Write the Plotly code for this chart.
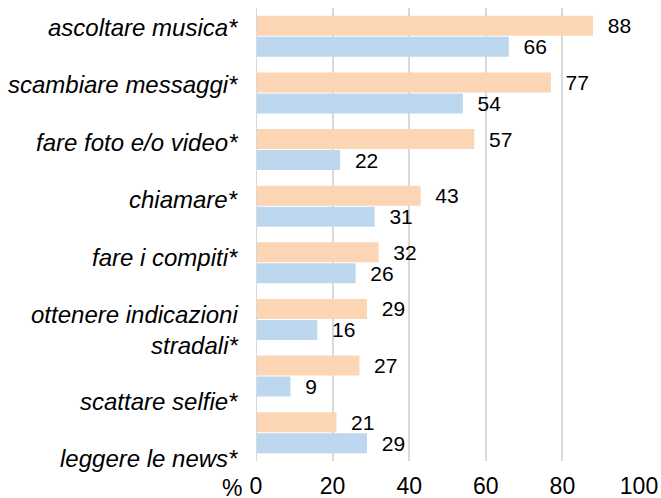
import plotly.graph_objects as go

categories = ["ascoltare musica*", "scambiare messaggi*", "fare foto e/o video*",
              "chiamare*", "fare i compiti*", "ottenere indicazioni<br>stradali*",
              "scattare selfie*", "leggere le news*"]
orange_values = [88, 77, 57, 43, 32, 29, 27, 21]
blue_values = [66, 54, 22, 31, 26, 16, 9, 29]
x_ticks = [0, 20, 40, 60, 80, 100]

# vertical pixel shift of each category label (labels in the source are not centred on groups)
label_yshift = [8.6, 8.1, 7.1, 6.7, 5.3, -10.6, -25.2, -26.3]

FONT = "Liberation Sans, Arial, sans-serif"
ypos = list(range(len(categories)))

fig = go.Figure()
for vals, col in [(orange_values, "#FCD5B5"), (blue_values, "#BDD7EE")]:
    fig.add_trace(go.Bar(
        x=vals, y=ypos, orientation="h",
        marker=dict(color=col, line=dict(width=0)),
        text=[f"\u00a0\u00a0{v}" for v in vals],
        textposition="outside", constraintext="none", cliponaxis=False,
        textfont=dict(family=FONT, size=21, color="#000000"),
        hoverinfo="skip",
    ))

annotations = []
for i, (c, ys) in enumerate(zip(categories, label_yshift)):
    annotations.append(dict(
        x=0, xref="paper", xanchor="right", xshift=-16,
        y=i, yref="y", yanchor="middle", yshift=ys,
        text=f"<i>{c}</i>", showarrow=False, align="right",
        font=dict(family=FONT, size=24, color="#000000"),
    ))
annotations.append(dict(
    x=0, xref="x", xanchor="right", xshift=-12,
    y=0, yref="paper", yanchor="middle", yshift=-27, height=18, valign="middle",
    text="%", showarrow=False,
    font=dict(family=FONT, size=23, color="#000000"),
))

fig.update_layout(
    width=661, height=498,
    margin=dict(l=256, r=22, t=8, b=37, autoexpand=False),
    paper_bgcolor="white", plot_bgcolor="white",
    barmode="group", bargap=0.257, bargroupgap=0.05,
    showlegend=False,
    annotations=annotations,
    xaxis=dict(range=[0, 100], tickvals=x_ticks, showgrid=True, automargin=False,
               gridcolor="#D9D9D9", gridwidth=2, zeroline=False,
               showline=False, ticks="", ticklabelstandoff=9,
               tickfont=dict(family=FONT, size=23, color="#000000")),
    yaxis=dict(range=[len(categories) - 0.5, -0.5], showticklabels=False, automargin=False,
               showgrid=False, zeroline=False, showline=False, ticks=""),
    shapes=[dict(type="line", xref="x", yref="paper", x0=0, x1=0, y0=0, y1=1,
                 line=dict(color="#D9D9D9", width=2))],
)

fig.write_html("out.html", config={"displayModeBar": False},
               post_script="document.body.style.margin='0';document.body.style.overflow='hidden';")
